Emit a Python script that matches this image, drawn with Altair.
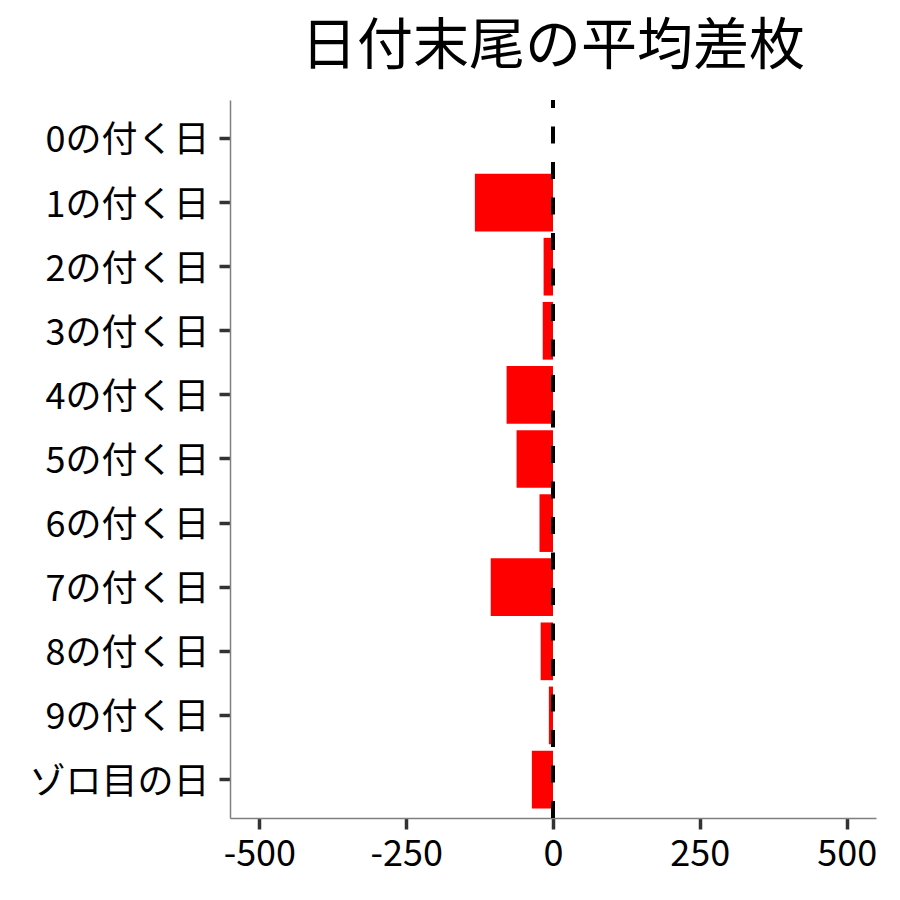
import altair as alt
import pandas as pd

categories = ["0の付く日", "1の付く日", "2の付く日", "3の付く日", "4の付く日",
              "5の付く日", "6の付く日", "7の付く日", "8の付く日", "9の付く日", "ゾロ目の日"]
values = [0, -133, -16, -17.5, -79, -62, -23, -106, -21, -7, -36]
x_ticks = [-500, -250, 0, 250, 500]

df = pd.DataFrame({"cat": categories, "val": values})
FONT = "Noto Sans CJK JP"

bars = alt.Chart(df).mark_bar(color="#FF0000").encode(
    x=alt.X("val:Q", scale=alt.Scale(domain=[-550, 550], nice=False, zero=False),
            axis=alt.Axis(values=x_ticks, title=None, grid=False,
                          labelExpr="replace(format(datum.value, 'd'), '\u2212', '-')",
                          labelPadding=8, labelFontSize=36)),
    y=alt.Y("cat:N", sort=categories,
            scale=alt.Scale(paddingInner=0.1, paddingOuter=0.15),
            axis=alt.Axis(title=None, grid=False, labelPadding=10, labelLimit=0,
                          labelFontSize=36, labelOffset=3)),
)

vline = alt.Chart(pd.DataFrame({"z": [0]})).mark_rule(
    color="black", strokeWidth=4, strokeDash=[17, 18.5]
).encode(
    x="z:Q",
    y=alt.value(718),
    y2=alt.value(0),
)

chart = alt.layer(bars, vline).properties(
    width=646, height=718,
    title=alt.TitleParams("日付末尾の平均差枚", fontSize=56, font=FONT,
                          fontWeight="normal", color="black", anchor="middle",
                          offset=22),
    autosize=alt.AutoSizeParams(type="none"),
    padding={"left": 222, "top": 92, "right": 16, "bottom": 74},
).configure_view(stroke=None).configure_axis(
    domainColor="#7f7f7f", domainWidth=1.5,
    tickColor="#333333", tickWidth=3.5, tickSize=11,
    labelFont=FONT, labelColor="black",
)

chart.save("out.html", embed_options={"renderer": "svg", "actions": False})
